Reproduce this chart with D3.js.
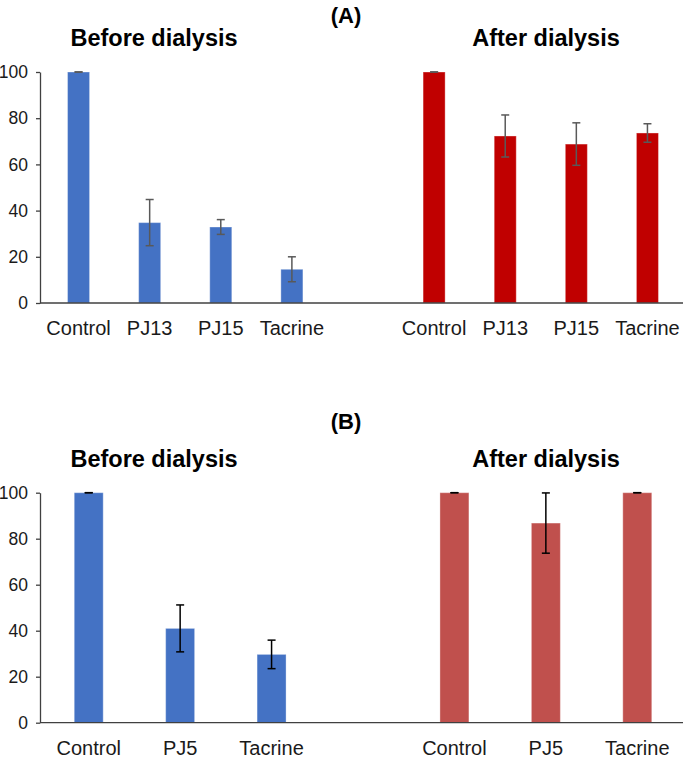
<!DOCTYPE html>
<html>
<head>
<meta charset="utf-8">
<script src="https://cdn.jsdelivr.net/npm/d3@7"></script>
<style>
  html, body { margin: 0; padding: 0; background: #fff; }
  svg { display: block; font-family: "Liberation Sans", Arial, sans-serif; }
</style>
</head>
<body>
<svg id="chart" width="685" height="761"></svg>
<script>
// ---------- data ----------
const panelA_categories = ["Control", "PJ13", "PJ15", "Tacrine"];
const panelA_before = [100, 34.8, 32.9, 14.6];
const panelA_before_err = [0, 10.0, 3.2, 5.4];
const panelA_after = [100, 72.3, 68.8, 73.6];
const panelA_after_err = [0, 9.1, 9.2, 4.0];

const panelB_categories = ["Control", "PJ5", "Tacrine"];
const panelB_before = [100, 41.0, 29.7];
const panelB_before_err = [0, 10.2, 6.2];
const panelB_after = [100, 86.8, 100];
const panelB_after_err = [0, 13.1, 0];

const yTicks = [0, 20, 40, 60, 80, 100];
const groupTitles = ["Before dialysis", "After dialysis"];
const panelLabels = ["(A)", "(B)"];

// ---------- drawing ----------
const svg = d3.select("#chart");

function drawPanel(cfg) {
  const cats = cfg.categories;
  const slots = [];
  cats.forEach(c => slots.push("before|" + c));
  slots.push("gap|");
  cats.forEach(c => slots.push("after|" + c));

  const rows = [];
  cats.forEach((c, i) => rows.push({slot: "before|" + c, cat: c, v: cfg.before[i], e: cfg.beforeErr[i], color: cfg.colorBefore}));
  cats.forEach((c, i) => rows.push({slot: "after|" + c, cat: c, v: cfg.after[i], e: cfg.afterErr[i], color: cfg.colorAfter}));

  const x = d3.scaleBand().domain(slots).range([43, 683])
    .paddingInner(cfg.pad).paddingOuter(cfg.pad / 2);
  const y = d3.scaleLinear().domain([0, 100]).range([cfg.y0, cfg.y100]);

  const g = svg.append("g");

  // bars
  g.selectAll("rect.bar").data(rows).join("rect")
    .attr("class", "bar")
    .attr("x", d => x(d.slot))
    .attr("y", d => y(d.v))
    .attr("width", x.bandwidth())
    .attr("height", d => y(0) - y(d.v))
    .attr("fill", d => d.color)
    .attr("stroke", "rgba(255,255,255,0.35)")
    .attr("stroke-width", 1);

  // error bars
  const eb = g.selectAll("g.err").data(rows).join("g").attr("class", "err")
    .attr("stroke", cfg.errColor).attr("stroke-width", 1.5).attr("fill", "none");
  const cx = d => x(d.slot) + x.bandwidth() / 2;
  eb.append("line")
    .attr("x1", cx).attr("x2", cx)
    .attr("y1", d => y(d.v + d.e)).attr("y2", d => y(d.v - d.e));
  eb.append("line")
    .attr("x1", d => cx(d) - 4).attr("x2", d => cx(d) + 4)
    .attr("y1", d => y(d.v + d.e)).attr("y2", d => y(d.v + d.e));
  eb.append("line")
    .attr("x1", d => cx(d) - 4).attr("x2", d => cx(d) + 4)
    .attr("y1", d => y(d.v - d.e)).attr("y2", d => y(d.v - d.e));

  // y axis
  const yAxis = d3.axisLeft(y).tickValues(yTicks).tickSize(4).tickSizeOuter(0).tickPadding(8);
  const ya = g.append("g").attr("transform", "translate(40,0)").call(yAxis);
  ya.select(".domain").attr("stroke", "#404040").attr("stroke-width", 1.3);
  ya.selectAll(".tick line").attr("stroke", "#404040").attr("stroke-width", 1.3);
  ya.selectAll(".tick text").attr("font-size", "17.5px").attr("fill", "#1a1a1a")
    .attr("font-family", "'Liberation Sans', Arial, sans-serif");

  // x axis line
  g.append("line").attr("x1", 40).attr("x2", 683)
    .attr("y1", y(0)).attr("y2", y(0))
    .attr("stroke", "#404040").attr("stroke-width", 1.3);

  // x labels
  g.selectAll("text.xl").data(rows).join("text").attr("class", "xl")
    .attr("x", cx).attr("y", cfg.labelBase)
    .attr("text-anchor", "middle").attr("font-size", "20px").attr("fill", "#1a1a1a")
    .text(d => d.cat);

  // group titles
  const titleX = [154, 546];
  groupTitles.forEach((t, i) => {
    g.append("text").attr("x", titleX[i]).attr("y", cfg.titleBase)
      .attr("text-anchor", "middle").attr("font-size", "23.5px").attr("font-weight", "bold")
      .attr("fill", "#000").text(t);
  });

  // panel label
  g.append("text").attr("x", 346).attr("y", cfg.panelBase)
    .attr("text-anchor", "middle").attr("font-size", "22px").attr("font-weight", "bold")
    .attr("fill", "#000").text(cfg.panelLabel);
}

drawPanel({
  categories: panelA_categories,
  before: panelA_before, beforeErr: panelA_before_err,
  after: panelA_after, afterErr: panelA_after_err,
  colorBefore: "#4472C4", colorAfter: "#C00000",
  errColor: "#595959",
  pad: 0.69,
  y0: 303, y100: 72,
  labelBase: 335, titleBase: 46, panelBase: 23,
  panelLabel: panelLabels[0]
});

drawPanel({
  categories: panelB_categories,
  before: panelB_before, beforeErr: panelB_before_err,
  after: panelB_after, afterErr: panelB_after_err,
  colorBefore: "#4472C4", colorAfter: "#C0504D",
  errColor: "#000000",
  pad: 0.683,
  y0: 722.7, y100: 492.7,
  labelBase: 755, titleBase: 467, panelBase: 429,
  panelLabel: panelLabels[1]
});
</script>
</body>
</html>
